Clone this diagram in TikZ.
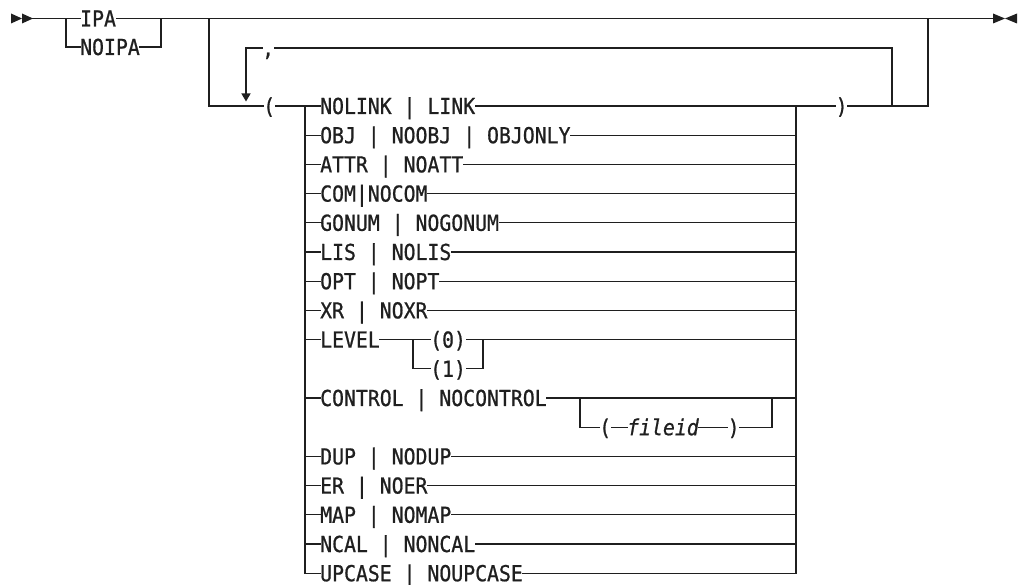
\documentclass[tikz,border=0pt]{standalone}
\usepackage{fontspec}
\newfontfamily\rrfont[FakeStretch=0.9,FakeBold=0.8]{DejaVu Sans Mono}
\usetikzlibrary{arrows.meta}
\colorlet{ink}{black!88}
\tikzset{
  via/.style={line width=1.3pt, draw=ink, line cap=rect},
  kw/.style={anchor=west, inner sep=0pt, text=ink, text height=16pt, text depth=0pt,
    font=\rrfont\fontsize{22pt}{26pt}\selectfont},
  var/.style={kw, font=\rrfont\itshape\fontsize{22pt}{26pt}\selectfont},
}
\begin{document}
\begin{tikzpicture}[x=1pt,y=-1pt]
\useasboundingbox (0,0) rectangle (1018,585);

% Inicio y fin
\fill[ink] (11,13.5) -- (22,18.5) -- (11,23.5) -- cycle;
\fill[ink] (22,13.5) -- (33,18.5) -- (22,23.5) -- cycle;
\fill[ink] (993,13.5) -- (1005,18.5) -- (993,23.5) -- cycle;
\fill[ink] (1017,13.5) -- (1005,18.5) -- (1017,23.5) -- cycle;
\coordinate (ini) at (33,18.5);
\coordinate (fin) at (993,18.5);

% IPA | NOIPA
\coordinate (a1) at (66,18.5);
\coordinate (b1) at (161,18.5);
\node[kw] (ipa) at (80,18.5) {IPA};
\node[kw] (noipa) at (80,47) {NOIPA};
\draw[via] (ini) -- (ipa.west) (ipa.east) -- (fin);
\draw[via] (a1) |- (noipa.west) (noipa.east) -| (b1);

% Grupo entre paréntesis
\coordinate (g1) at (209,18.5);
\coordinate (g2) at (928,18.5);
\node[kw] (abre) at (263,106) {(};
\node[kw] (cierra) at (835.5,106) {)};
\draw[via] (g1) |- (abre.west);
\draw[via] (cierra.east) -| (g2);

% Repetición con coma
\coordinate (rep) at (246,48);
\coordinate (r2) at (892,106);
\node[kw] (coma) at (262,48) {,};
\draw[via, -{Triangle[width=9pt,length=8pt]}, shorten >=4.5pt] (rep) -- (rep |- abre.west);
\draw[via] (rep) -- (coma.west) (coma.east) -| (r2);

% Opciones
\coordinate (izq) at (305,106);
\coordinate (der) at (796,106);
\draw[via] (abre.east) -- (izq);
\foreach \y/\t [count=\n] in {106/NOLINK | LINK, 135.2/OBJ | NOOBJ | OBJONLY,
    164.4/ATTR | NOATT, 193.6/COM|NOCOM, 222.8/GONUM | NOGONUM, 252/LIS | NOLIS,
    281.2/OPT | NOPT, 310.4/XR | NOXR, 398/CONTROL | NOCONTROL, 456.4/DUP | NODUP,
    485.6/ER | NOER, 514.8/MAP | NOMAP, 544/NCAL | NONCAL, 573.2/UPCASE | NOUPCASE}{
  \node[kw] (o\n) at (320,\y) {\t};
  \draw[via] (izq |- o\n.west) -- (o\n.west) (o\n.east) -- (der |- o\n.east);
}
\draw[via] (izq) -- (izq |- o14.west);
\draw[via] (der) -- (der |- o14.east);
\draw[via] (der) -- (cierra.west);

% LEVEL
\coordinate (n1) at (413,339.6);
\coordinate (n2) at (483,339.6);
\node[kw] (nivel) at (320,339.6) {LEVEL};
\node[kw] (cero) at (430,339.6) {(0)};
\node[kw] (uno) at (430,368.8) {(1)};
\draw[via] (izq |- nivel.west) -- (nivel.west) (nivel.east) -- (cero.west)
  (cero.east) -- (der |- cero.east);
\draw[via] (n1) |- (uno.west) (uno.east) -| (n2);

% fileid
\coordinate (c1) at (580,398);
\coordinate (c2) at (772,398);
\node[kw] (pa) at (599,427.2) {(};
\node[var] (fid) at (627,427.2) {fileid};
\node[kw] (pc) at (727.5,427.2) {)};
\draw[via] (c1) |- (pa.west) (pa.east) -- (fid.west) (fid.east) -- (pc.west) (pc.east) -| (c2);
\end{tikzpicture}
\end{document}
